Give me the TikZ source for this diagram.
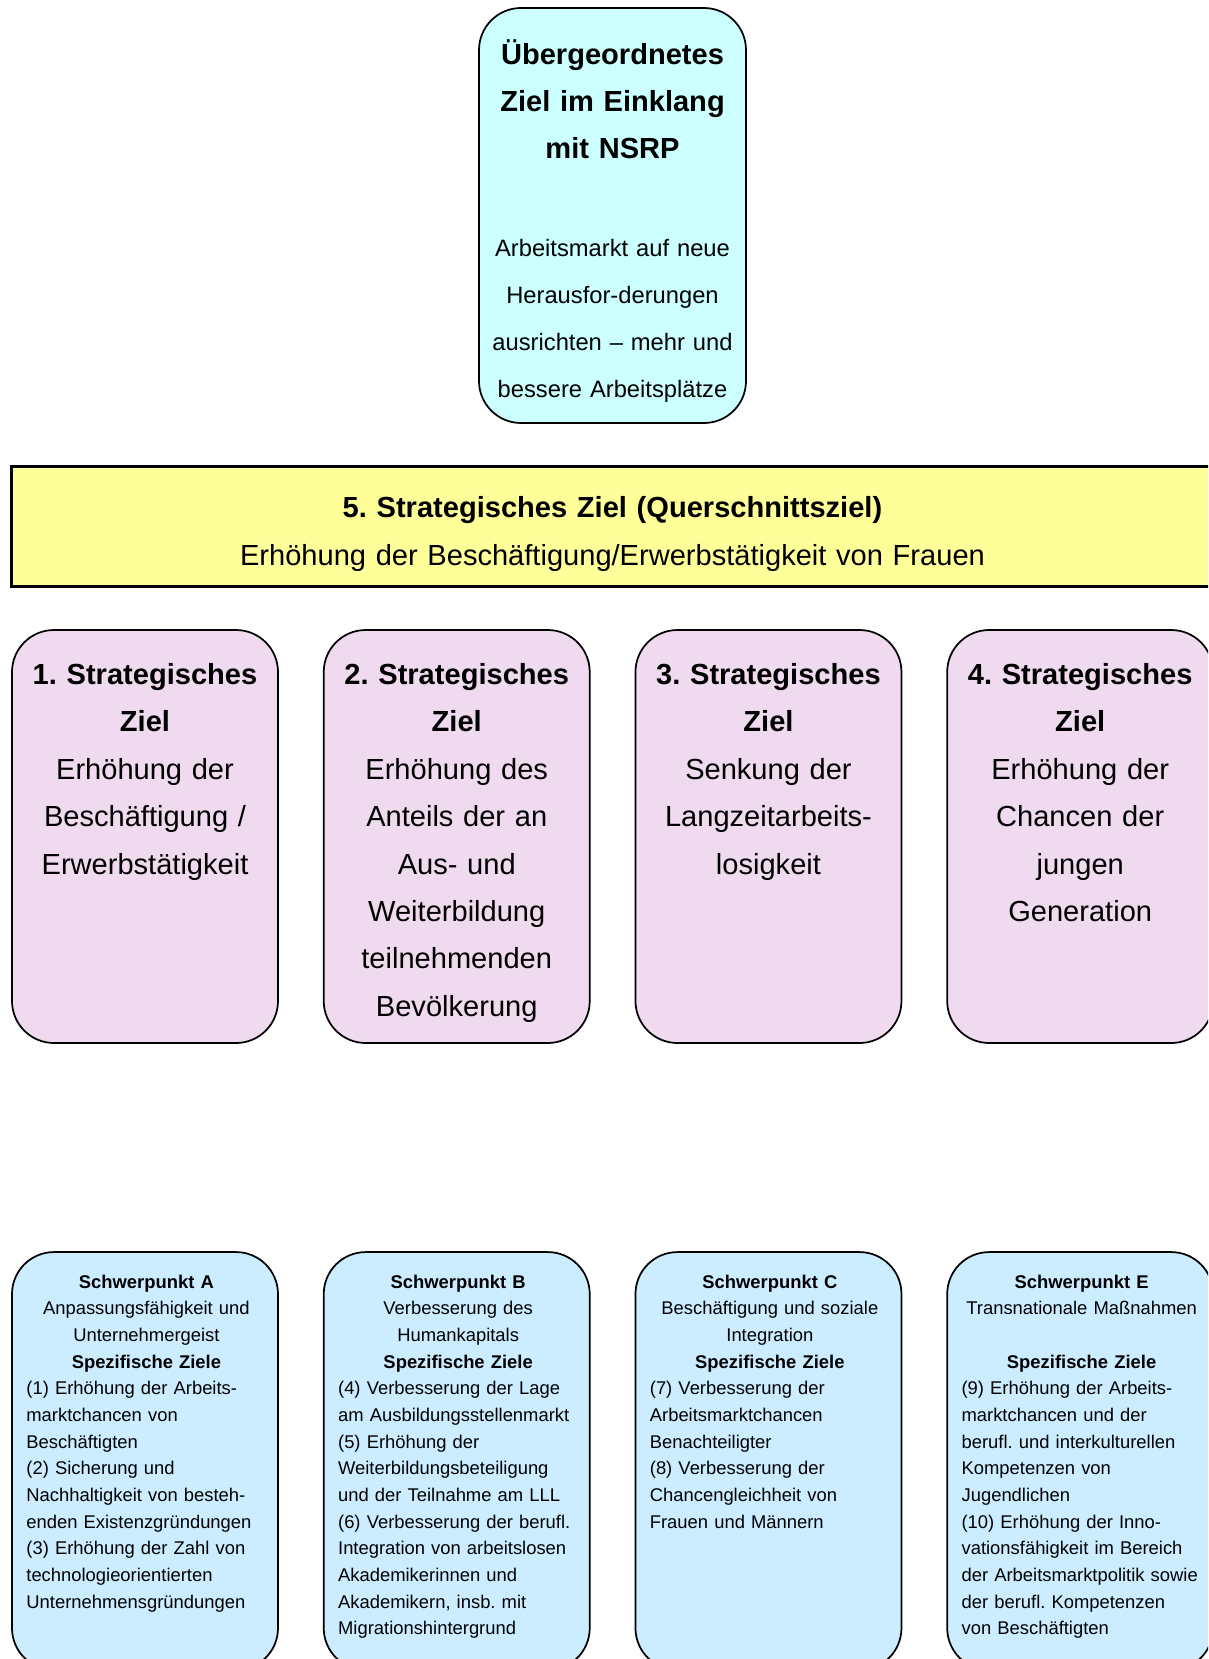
\documentclass[tikz,border=0pt]{standalone}
\usepackage{fontspec}
\setmainfont{Liberation Sans}
\usetikzlibrary{positioning}
\frenchspacing

\definecolor{obercyan}{HTML}{CCFFFF}
\definecolor{quergelb}{HTML}{FFFF99}
\definecolor{zielrosa}{HTML}{F0DAF0}
\definecolor{spblau}{HTML}{CCECFF}

\newcommand{\mitte}[1]{\hfill#1\hfill\null}

\begin{document}
\begin{tikzpicture}[x=0.75pt, y=-0.75pt,
    rundbox/.style={draw, line width=1.3pt, rounded corners=31.5pt, minimum width=199.5pt, inner sep=0pt},
    zielbox/.style={rundbox, fill=zielrosa, minimum height=309.75pt},
    spbox/.style={rundbox, fill=spblau, minimum height=313.5pt},
    grosstext/.style={anchor=base, inner sep=0pt, text width=195pt, align=center, font=\fontsize{21.8}{35.6}\selectfont},
    kleintext/.style={anchor=base west, inner sep=0pt, text width=180pt, align=left, font=\fontsize{13.8}{20}\selectfont}]
    \useasboundingbox (0,0) rectangle (1208,1659);
    \fill[white] (0,0) rectangle (1208,1659);
    \clip (0,0) rectangle (1208,1659);

    % uebergeordnetes Ziel
    \node[rundbox, fill=obercyan, minimum width=200.25pt, minimum height=311.25pt] (oberziel) at (612.5,215.5) {};
    \node[grosstext, font=\fontsize{21.8}{35.25}\selectfont\bfseries] (obertitel) at ([yshift=-42.75pt]oberziel.north) {Übergeordnetes\\Ziel im Einklang\\mit NSRP};
    \node[grosstext, font=\fontsize{17.8}{35.25}\selectfont] (obertext) at ([yshift=-186.75pt]oberziel.north) {Arbeitsmarkt auf neue\\Herausfor-derungen\\ausrichten – mehr und\\bessere Arbeitsplätze};

    % Querschnittsziel
    \node[draw, line width=1.8pt, fill=quergelb, minimum width=901.5pt, minimum height=90pt, inner sep=0pt, below=31pt of oberziel] (querziel) {};
    \node[grosstext, text width=880pt, font=\fontsize{21.8}{36}\selectfont] (quertext) at ([yshift=-39.5pt]querziel.north) {\textbf{5. Strategisches Ziel (Querschnittsziel)}\\Erhöhung der Beschäftigung/Erwerbstätigkeit von Frauen};

    % strategische Ziele
    \node[zielbox] (ziel1) at (145,836.5) {};
    \node[zielbox, right=33pt of ziel1] (ziel2) {};
    \node[zielbox, right=33pt of ziel2] (ziel3) {};
    \node[zielbox, right=33pt of ziel3] (ziel4) {};
    \node[grosstext] (ziel1text) at ([yshift=-41.25pt]ziel1.north) {\textbf{1. Strategisches}\\\textbf{Ziel}\\Erhöhung der\\Beschäftigung /\\Erwerbstätigkeit};
    \node[grosstext] (ziel2text) at ([yshift=-41.25pt]ziel2.north) {\textbf{2. Strategisches}\\\textbf{Ziel}\\Erhöhung des\\Anteils der an\\Aus- und\\Weiterbildung\\teilnehmenden\\Bevölkerung};
    \node[grosstext] (ziel3text) at ([yshift=-41.25pt]ziel3.north) {\textbf{3. Strategisches}\\\textbf{Ziel}\\Senkung der\\Langzeitarbeits-\\losigkeit};
    \node[grosstext] (ziel4text) at ([yshift=-41.25pt]ziel4.north) {\textbf{4. Strategisches}\\\textbf{Ziel}\\Erhöhung der\\Chancen der\\jungen\\Generation};

    % Schwerpunkte
    \node[spbox, below=155.5pt of ziel1] (spA) {};
    \node[spbox, below=155.5pt of ziel2] (spB) {};
    \node[spbox, below=155.5pt of ziel3] (spC) {};
    \node[spbox, below=155.5pt of ziel4] (spE) {};
    \node[kleintext] (spAtext) at ([xshift=11.25pt, yshift=-27.75pt]spA.north west) {\mitte{\textbf{Schwerpunkt A}}\\\mitte{Anpassungsfähigkeit und}\\\mitte{Unternehmergeist}\\\mitte{\textbf{Spezifische Ziele}}\\(1) Erhöhung der Arbeits-\\marktchancen von\\Beschäftigten\\(2) Sicherung und\\Nachhaltigkeit von besteh-\\enden Existenzgründungen\\(3) Erhöhung der Zahl von\\technologieorientierten\\Unternehmensgründungen};
    \node[kleintext] (spBtext) at ([xshift=11.25pt, yshift=-27.75pt]spB.north west) {\mitte{\textbf{Schwerpunkt B}}\\\mitte{Verbesserung des}\\\mitte{Humankapitals}\\\mitte{\textbf{Spezifische Ziele}}\\(4) Verbesserung der Lage\\am Ausbildungsstellenmarkt\\(5) Erhöhung der\\Weiterbildungsbeteiligung\\und der Teilnahme am LLL\\(6) Verbesserung der berufl.\\Integration von arbeitslosen\\Akademikerinnen und\\Akademikern, insb. mit\\Migrationshintergrund};
    \node[kleintext] (spCtext) at ([xshift=11.25pt, yshift=-27.75pt]spC.north west) {\mitte{\textbf{Schwerpunkt C}}\\\mitte{Beschäftigung und soziale}\\\mitte{Integration}\\\mitte{\textbf{Spezifische Ziele}}\\(7) Verbesserung der\\Arbeitsmarktchancen\\Benachteiligter\\(8) Verbesserung der\\Chancengleichheit von\\Frauen und Männern};
    \node[kleintext] (spEtext) at ([xshift=11.25pt, yshift=-27.75pt]spE.north west) {\mitte{\textbf{Schwerpunkt E}}\\\mitte{Transnationale Maßnahmen}\\\mbox{}\\\mitte{\textbf{Spezifische Ziele}}\\(9) Erhöhung der Arbeits-\\marktchancen und der\\berufl. und interkulturellen\\Kompetenzen von\\Jugendlichen\\(10) Erhöhung der Inno-\\vationsfähigkeit im Bereich\\der Arbeitsmarktpolitik sowie\\der berufl. Kompetenzen\\von Beschäftigten};
\end{tikzpicture}
\end{document}
